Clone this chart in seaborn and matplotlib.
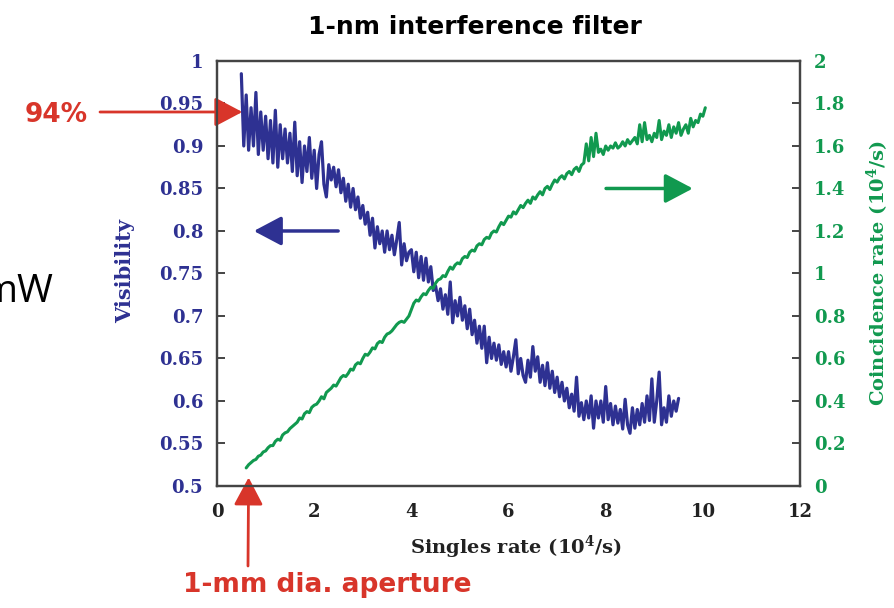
import numpy as np
import matplotlib
matplotlib.use('Agg')
import matplotlib.pyplot as plt
import seaborn as sns

# visibility, one value every 0.05 (10^4/s) from 0.5 to 9.5
vis_start, vis_stop = 0.5, 9.5
visibility = [
    0.985, 0.90, 0.96, 0.895, 0.945, 0.90, 0.963, 0.89, 0.94, 0.895,
    0.935, 0.885, 0.93, 0.88, 0.942, 0.875, 0.925, 0.885, 0.92, 0.88,
    0.915, 0.87, 0.928, 0.865, 0.905, 0.857, 0.90, 0.87, 0.91, 0.862,
    0.895, 0.85, 0.89, 0.905, 0.855, 0.84, 0.878, 0.86, 0.875, 0.852,
    0.872, 0.845, 0.862, 0.835, 0.855, 0.828, 0.85, 0.825, 0.84, 0.815,
    0.83, 0.808, 0.822, 0.795, 0.815, 0.78, 0.805, 0.785, 0.80, 0.775,
    0.80, 0.778, 0.795, 0.772, 0.79, 0.81, 0.76, 0.785, 0.765, 0.775,
    0.778, 0.752, 0.775, 0.745, 0.77, 0.742, 0.768, 0.74, 0.758, 0.73,
    0.735, 0.718, 0.732, 0.708, 0.725, 0.702, 0.74, 0.692, 0.718, 0.70,
    0.722, 0.695, 0.712, 0.685, 0.708, 0.678, 0.695, 0.668, 0.688, 0.662,
    0.688, 0.645, 0.675, 0.65, 0.668, 0.648, 0.666, 0.643, 0.658, 0.64,
    0.658, 0.635, 0.652, 0.672, 0.632, 0.65, 0.63, 0.622, 0.648, 0.628,
    0.664, 0.635, 0.652, 0.622, 0.642, 0.618, 0.645, 0.615, 0.635, 0.61,
    0.628, 0.605, 0.622, 0.60, 0.615, 0.592, 0.608, 0.588, 0.628, 0.582,
    0.598, 0.578, 0.60, 0.58, 0.606, 0.568, 0.60, 0.58, 0.60, 0.575,
    0.617, 0.578, 0.597, 0.572, 0.594, 0.574, 0.59, 0.567, 0.602, 0.572,
    0.562, 0.592, 0.568, 0.59, 0.572, 0.597, 0.575, 0.606, 0.577, 0.626,
    0.575, 0.60, 0.634, 0.572, 0.592, 0.575, 0.606, 0.582, 0.60, 0.588,
    0.603,
]

# coincidence rate (10^4/s), one value every 0.05 from 0.6 to 10.05
coinc_start, coinc_stop = 0.6, 10.05
coincidence = [
    0.085, 0.10, 0.11, 0.12, 0.125, 0.14, 0.145, 0.16, 0.165, 0.18,
    0.19, 0.19, 0.21, 0.22, 0.215, 0.24, 0.25, 0.255, 0.27, 0.28,
    0.29, 0.30, 0.32, 0.315, 0.34, 0.35, 0.345, 0.37, 0.38, 0.385,
    0.40, 0.42, 0.41, 0.44, 0.45, 0.46, 0.475, 0.47, 0.49, 0.51,
    0.52, 0.515, 0.53, 0.55, 0.545, 0.57, 0.58, 0.575, 0.60, 0.62,
    0.615, 0.63, 0.65, 0.645, 0.67, 0.68, 0.675, 0.70, 0.715, 0.72,
    0.73, 0.745, 0.76, 0.77, 0.775, 0.77, 0.785, 0.80, 0.83, 0.86,
    0.875, 0.87, 0.89, 0.905, 0.90, 0.92, 0.935, 0.93, 0.955, 0.97,
    0.975, 0.99, 0.985, 1.01, 1.03, 1.02, 1.04, 1.05, 1.045, 1.07,
    1.08, 1.075, 1.10, 1.11, 1.105, 1.13, 1.14, 1.135, 1.16, 1.17,
    1.165, 1.19, 1.20, 1.195, 1.22, 1.24, 1.23, 1.25, 1.27, 1.265,
    1.29, 1.28, 1.30, 1.32, 1.31, 1.33, 1.345, 1.33, 1.36, 1.35,
    1.37, 1.385, 1.37, 1.40, 1.41, 1.395, 1.42, 1.44, 1.43, 1.45,
    1.46, 1.445, 1.47, 1.48, 1.465, 1.49, 1.50, 1.48, 1.51, 1.52,
    1.61, 1.53, 1.64, 1.55, 1.66, 1.57, 1.585, 1.56, 1.60, 1.58,
    1.60, 1.59, 1.615, 1.59, 1.60, 1.62, 1.60, 1.63, 1.61, 1.625,
    1.64, 1.61, 1.70, 1.62, 1.71, 1.63, 1.65, 1.62, 1.66, 1.64,
    1.72, 1.63, 1.67, 1.65, 1.70, 1.64, 1.69, 1.66, 1.71, 1.65,
    1.68, 1.70, 1.66, 1.73, 1.69, 1.72, 1.71, 1.75, 1.74, 1.78,
]

x_ticks = [0, 2, 4, 6, 8, 10, 12]
vis_ticks = [0.5, 0.55, 0.6, 0.65, 0.7, 0.75, 0.8, 0.85, 0.9, 0.95, 1.0]
coinc_ticks = [0, 0.2, 0.4, 0.6, 0.8, 1.0, 1.2, 1.4, 1.6, 1.8, 2.0]

BLUE = '#2e3192'
GREEN = '#11994f'
RED = '#d8352a'
SPINE = '#444444'

sns.set_style('white')
plt.rcParams['font.family'] = ['DejaVu Serif']
plt.rcParams['font.weight'] = 'bold'
plt.rcParams['axes.labelweight'] = 'bold'
plt.rcParams['mathtext.fontset'] = 'dejavuserif'

x_vis = np.linspace(vis_start, vis_stop, len(visibility))
x_coinc = np.linspace(coinc_start, coinc_stop, len(coincidence))

fig = plt.figure(figsize=(8.95, 6.08), dpi=100)
ax = fig.add_axes([0.2425, 0.2007, 0.6514, 0.699])
ax2 = ax.twinx()

sns.lineplot(x=x_vis, y=visibility, ax=ax, color=BLUE, lw=2.3,
             estimator=None, sort=False)
sns.lineplot(x=x_coinc, y=coincidence, ax=ax2, color=GREEN, lw=2.2,
             estimator=None, sort=False)

ax.set_xlim(0, 12)
ax.set_ylim(0.5, 1.0)
ax2.set_ylim(0, 2)
ax.set_xticks(x_ticks)
ax.set_xticklabels([f'{t:g}' for t in x_ticks])
ax.set_yticks(vis_ticks)
ax.set_yticklabels([f'{t:g}' for t in vis_ticks])
ax2.set_yticks(coinc_ticks)
ax2.set_yticklabels([f'{t:g}' for t in coinc_ticks])

for a in (ax, ax2):
    for s in a.spines.values():
        s.set_color(SPINE)
        s.set_linewidth(1.6)

ax.tick_params(axis='x', direction='in', length=6, width=1.4, color=SPINE,
               labelsize=13, labelcolor='#222222', pad=12, top=False)
ax.tick_params(axis='y', direction='in', length=6, width=1.4, color=SPINE,
               labelsize=13, labelcolor=BLUE, pad=10, right=False)
ax2.tick_params(axis='y', direction='in', length=6, width=1.4, color=SPINE,
                labelsize=13, labelcolor=GREEN, pad=10)

ax.set_xlabel(r'Singles rate (10$^{\mathbf{4}}$/s)', fontsize=14, color='#222222')
ax.xaxis.set_label_coords(0.513, -0.112)
ax.set_ylabel('Visibility', fontsize=15, color=BLUE)
ax.yaxis.set_label_coords(-0.14, 0.505)
ax2.set_ylabel(r'Coincidence rate (10$^{\mathbf{4}}$/s)', fontsize=14, color=GREEN)
ax2.yaxis.set_label_coords(1.112, 0.5)

head = '-|>,head_length=0.85,head_width=0.45'

# direction arrows for each curve
ax.annotate('', xy=(0.7, 0.8), xytext=(2.55, 0.8),
            arrowprops=dict(arrowstyle=head, color=BLUE, lw=2.5, mutation_scale=20))
ax2.annotate('', xy=(9.85, 1.4), xytext=(7.95, 1.4),
             arrowprops=dict(arrowstyle=head, color=GREEN, lw=2.5, mutation_scale=20))

# red callouts
ax.annotate('', xy=(0.52, 0.94), xytext=(100, 608 - 112), textcoords='figure pixels',
            arrowprops=dict(arrowstyle=head, color=RED, lw=2.0, mutation_scale=20,
                            shrinkA=0, shrinkB=0),
            annotation_clip=False)
ax.annotate('', xy=(0.65, 0.51), xytext=(248, 608 - 566), textcoords='figure pixels',
            arrowprops=dict(arrowstyle=head, color=RED, lw=2.0, mutation_scale=20,
                            shrinkA=0, shrinkB=0),
            annotation_clip=False)
fig.text(56 / 895, 1 - 115 / 608, '94%', color=RED, fontsize=19,
         family='DejaVu Sans', weight='bold', ha='center', va='center')
fig.text(327 / 895, 1 - 585 / 608, '1-mm dia. aperture', color=RED, fontsize=19,
         family='DejaVu Sans', weight='bold', ha='center', va='center')

fig.text(475 / 895, 1 - 27 / 608, '1-nm interference filter', color='black',
         fontsize=18, family='DejaVu Sans', weight='bold', ha='center', va='center')

# leftover text clipped at the left edge of the slide, as in the source
fig.text(54 / 895, 1 - 292 / 608, 'mW', color='black', fontsize=28,
         family='Open Sans', weight='normal', ha='right', va='center')

fig.savefig('out.png', dpi=100)
